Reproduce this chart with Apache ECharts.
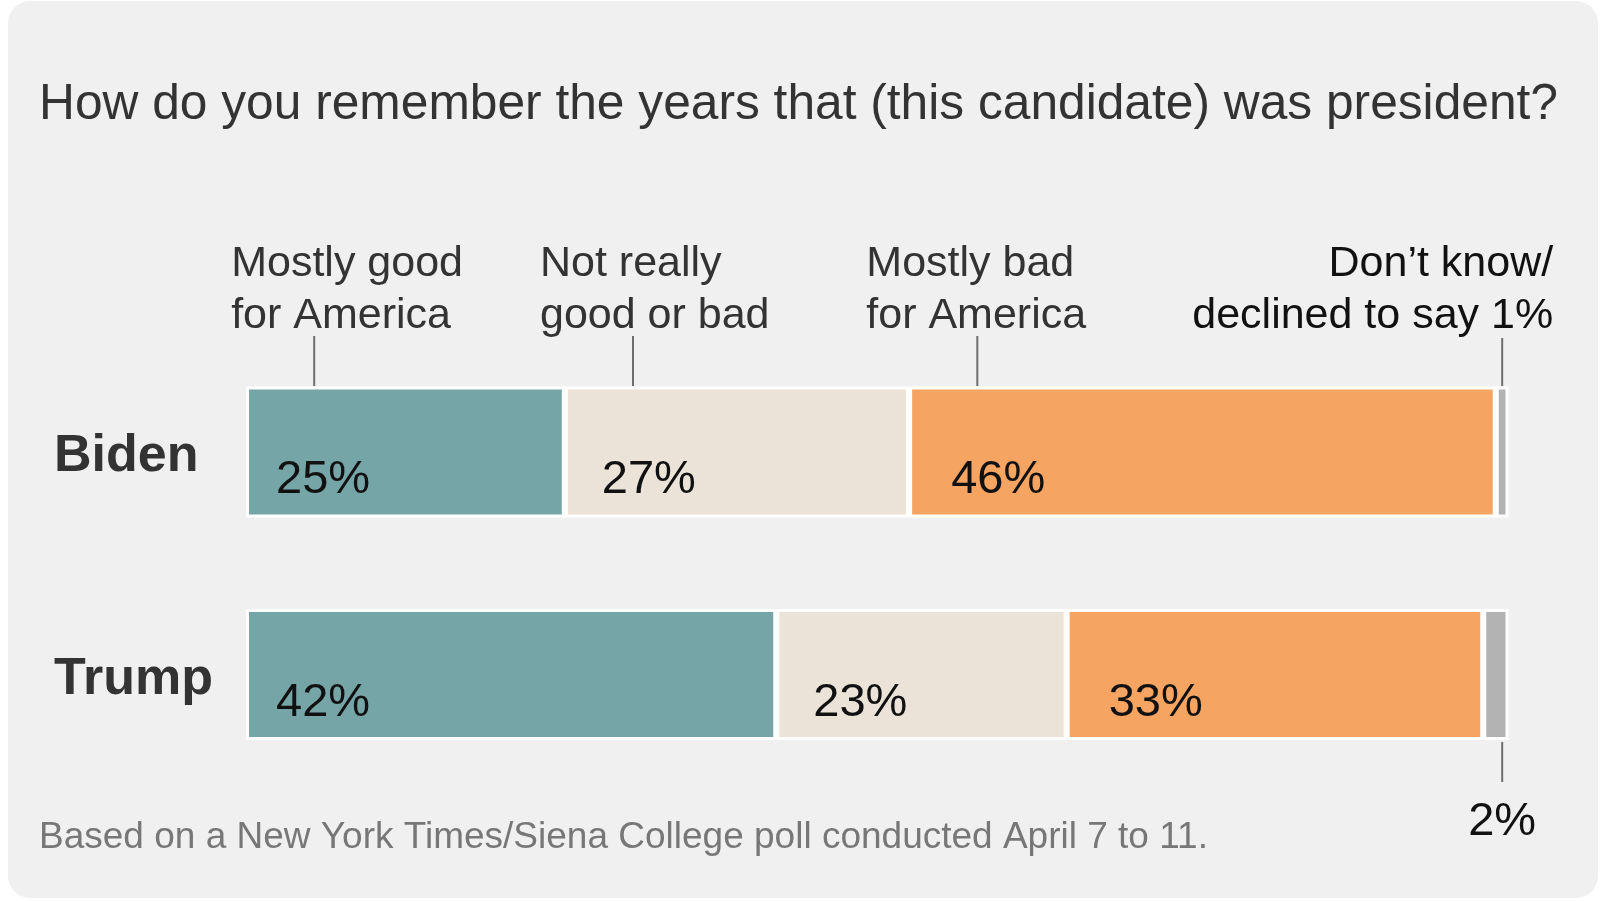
<!DOCTYPE html>
<html>
<head>
<meta charset="utf-8">
<script src="https://cdn.jsdelivr.net/npm/echarts@6/dist/echarts.min.js"></script>
<style>
  html, body { margin: 0; padding: 0; background: #ffffff; }
  #chart { width: 1600px; height: 901px; }
</style>
</head>
<body>
<div id="chart"></div>
<script>
// ---- data ----
const categories = ['Biden', 'Trump'];
const responses = ['Mostly good for America', 'Not really good or bad', 'Mostly bad for America', 'Don\u2019t know/declined to say'];
const mostlyGood = [25, 42];
const notReally = [27, 23];
const mostlyBad = [46, 33];
const dontKnow = [1, 2];
const seriesValues = [mostlyGood, notReally, mostlyBad, dontKnow];
const titleText = 'How do you remember the years that (this candidate) was president?';
const noteText = 'Based on a New York Times/Siena College poll conducted April 7 to 11.';

// ---- styling ----
const FONT = '"Liberation Sans", Arial, Helvetica, sans-serif';
const colors = ['#76a5a7', '#ebe3d8', '#f5a462', '#b3b3b3'];
const labelOffsets = [30, 37, 42];

const totals = categories.map((_, r) => seriesValues.reduce((s, arr) => s + arr[r], 0));
const shares = seriesValues.map(arr => arr.map((v, r) => v / totals[r] * 100));

const chart = echarts.init(document.getElementById('chart'), null, { renderer: 'canvas' });

const series = seriesValues.map((arr, s) => ({
  name: responses[s],
  type: 'bar',
  stack: 'total',
  barWidth: 131,
  data: shares[s],
  itemStyle: { color: colors[s], borderColor: '#ffffff', borderWidth: 3 },
  emphasis: { disabled: true },
  label: {
    show: s < 3,
    position: [labelOffsets[s] || 0, 94],
    align: 'left',
    verticalAlign: 'middle',
    fontFamily: FONT,
    fontSize: 47,
    color: '#111111',
    formatter: p => seriesValues[s][p.dataIndex] + '%'
  }
}));

chart.setOption({
  animation: false,
  backgroundColor: '#ffffff',
  title: {
    text: titleText,
    left: 39,
    top: 80,
    padding: 0,
    textStyle: { fontFamily: FONT, fontSize: 49.7, fontWeight: 'normal', color: '#333333' }
  },
  grid: { left: 246, right: 91.5, top: 340.75, height: 445, containLabel: false },
  xAxis: { type: 'value', min: 0, max: 100, show: false },
  yAxis: {
    type: 'category',
    data: categories,
    inverse: true,
    axisLine: { show: false },
    axisTick: { show: false },
    splitLine: { show: false },
    axisLabel: {
      align: 'left',
      verticalAlign: 'top',
      lineHeight: 10,
      margin: 192,
      fontFamily: FONT,
      fontSize: 52,
      fontWeight: 'bold',
      color: '#333333'
    }
  },
  series: series
});

// ---- annotations placed through the axis scale ----
const px = v => chart.convertToPixel({ xAxisIndex: 0 }, v);
const starts = categories.map((_, r) => {
  let acc = 0;
  return shares.map(arr => { const st = acc; acc += arr[r]; return st; });
});

const topLabels = ['Mostly good\nfor America', 'Not really\ngood or bad', 'Mostly bad\nfor America'];
const textOffsets = [-83, -93, -111];
const tickColor = '#6e6e6e';
const graphics = [];

graphics.push({
  type: 'rect', z: -100, silent: true,
  shape: { x: 8, y: 1, width: 1590, height: 897, r: 22 },
  style: { fill: '#f0f0f0' }
});

for (let s = 0; s < 3; s++) {
  const x = px(starts[0][s] + 5.4);
  graphics.push({ type: 'line', silent: true, shape: { x1: x, y1: 336, x2: x, y2: 386 }, style: { stroke: tickColor, lineWidth: 2 } });
  graphics.push({
    type: 'text', silent: true,
    style: { text: topLabels[s], x: x + textOffsets[s], y: 290, align: 'left', verticalAlign: 'middle',
      fontFamily: FONT, fontSize: 43, lineHeight: 52, fill: '#333333' }
  });
}
// Don't know (Biden)
const xb = px(100 - 0.5);
graphics.push({ type: 'line', silent: true, shape: { x1: xb, y1: 338, x2: xb, y2: 386 }, style: { stroke: tickColor, lineWidth: 2 } });
graphics.push({
  type: 'text', silent: true,
  style: { text: 'Don\u2019t know/\ndeclined to say ' + dontKnow[0] + '%', x: xb + 51, y: 290, align: 'right', verticalAlign: 'middle',
    fontFamily: FONT, fontSize: 43, lineHeight: 52, fill: '#111111' }
});
// Don't know (Trump)
const xt = px(100 - 0.5);
graphics.push({ type: 'line', silent: true, shape: { x1: xt, y1: 742, x2: xt, y2: 782 }, style: { stroke: tickColor, lineWidth: 2 } });
graphics.push({
  type: 'text', silent: true,
  style: { text: dontKnow[1] + '%', x: xt, y: 822, align: 'center', verticalAlign: 'middle',
    fontFamily: FONT, fontSize: 47, fill: '#111111' }
});
// footnote
graphics.push({
  type: 'text', silent: true,
  style: { text: noteText, x: 39, y: 838, align: 'left', verticalAlign: 'middle',
    fontFamily: FONT, fontSize: 37, fill: '#777777' }
});

chart.setOption({ graphic: graphics });
</script>
</body>
</html>
